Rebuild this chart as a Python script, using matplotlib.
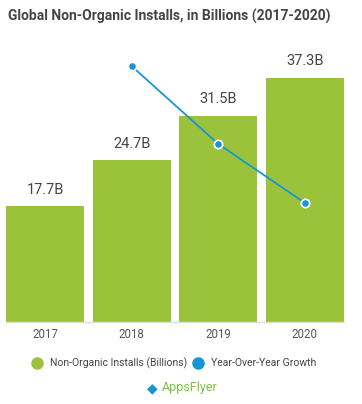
import matplotlib.pyplot as plt
from matplotlib.lines import Line2D

years = ['2017', '2018', '2019', '2020']
installs = [17.7, 24.7, 31.5, 37.3]
growth_years = ['2018', '2019', '2020']
growth = [39.5, 27.5, 18.4]

green = '#9bc23b'
blue = '#1697d4'
text_col = '#444444'

plt.rcParams['font.family'] = ['Roboto', 'DejaVu Sans']

fig = plt.figure(figsize=(3.62, 4.04), dpi=100)
ax = fig.add_axes([0.0174, 0.203, 0.932, 0.6475])

x = list(range(len(years)))
ax.bar(x, installs, width=0.9, color=green, zorder=2)
for xi, v in zip(x, installs):
    ax.annotate(f'{v}B', (xi, v), xytext=(0, 7), textcoords='offset points',
                ha='center', va='bottom', fontsize=10.5, color=text_col)

ax.set_xlim(-0.45, 3.45)
ax.set_ylim(0, 40)
ax.set_xticks(x)
ax.set_xticklabels(years, fontsize=8.3, color='#555555')
ax.tick_params(axis='x', length=0, pad=4)
ax.set_yticks([])
for s in ['top', 'right', 'left']:
    ax.spines[s].set_visible(False)
ax.spines['bottom'].set_color('#dddddd')
ax.spines['bottom'].set_linewidth(1)

ax2 = ax.twinx()
gx = [years.index(y) for y in growth_years]
ax2.plot(gx, growth, color=blue, lw=1.3, marker='o', markersize=6,
         markerfacecolor=blue, markeredgecolor='white', markeredgewidth=1.2, zorder=3)
ax2.set_ylim(0, 40.4)
ax2.axis('off')

fig.text(8 / 362, 1 - 16 / 404, 'Global Non-Organic Installs, in Billions (2017-2020)',
         ha='left', va='center', fontsize=10, fontweight='bold', color=text_col)

handles = [
    Line2D([], [], ls='none', marker='o', markersize=8, color=green, label='Non-Organic Installs (Billions)'),
    Line2D([], [], ls='none', marker='o', markersize=8, color=blue, label='Year-Over-Year Growth'),
]
fig.legend(handles=handles, loc='center', bbox_to_anchor=(174 / 362, 1 - 363 / 404), ncol=2,
           frameon=False, fontsize=7.5, handlelength=1, handletextpad=0.7,
           columnspacing=0.6, labelcolor=text_col)

fig.text(152 / 362, 1 - 388 / 404, '◆', ha='center', va='center', fontsize=10,
         color=blue, family='DejaVu Sans')
fig.text(190 / 362, 1 - 388 / 404, 'AppsFlyer', ha='center', va='center', fontsize=9,
         color='#7cc242')

fig.savefig('out.png', dpi=100)
